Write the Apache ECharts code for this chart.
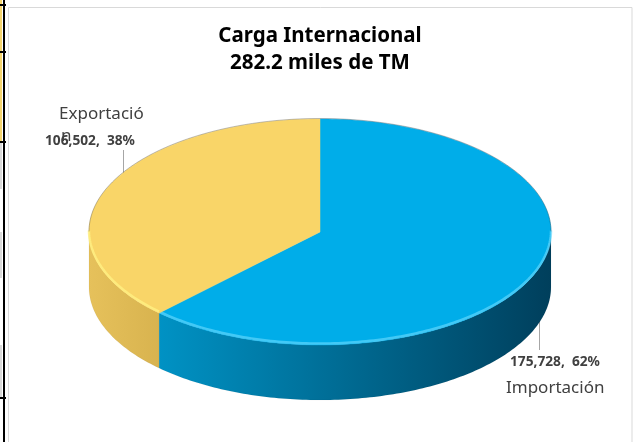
<!DOCTYPE html>
<html><head><meta charset="utf-8">
<script src="https://cdn.jsdelivr.net/npm/echarts@6/dist/echarts.min.js"></script>
<style>html,body{margin:0;padding:0;background:#fff}#c{width:637px;height:442px}</style>
</head><body><div id="c"></div>
<script>
// ---- data ----
const categories = ['Importación', 'Exportación'];
const values = [175728, 106502];
const titleLines = ['Carga Internacional', '282.2 miles de TM'];

// ---- geometry / style ----
const CX = 320, CY = 232, RX = 231, RY = 113, DEPTH = 55;
const topColors = ['#00ADE9', '#F9D568'];
const sideColors = [['#0092C4', '#003F5C'], ['#E6C15B', '#D8B34F']];
const bevelColors = ['rgba(110,220,255,0.6)', 'rgba(255,240,130,0.8)'];
const FONT = '"Noto Sans", "DejaVu Sans", sans-serif';

const total = values.reduce((a, b) => a + b, 0);
const cum = [];
values.reduce((acc, v, i) => { cum[i] = acc; return acc + v; }, 0);

function pt(deg, dy) {
  const r = deg * Math.PI / 180;
  return [CX + RX * Math.cos(r), CY - RY * Math.sin(r) + (dy || 0)];
}
function arc(a0, a1, dy) {
  const pts = [];
  const n = Math.max(2, Math.ceil(Math.abs(a0 - a1)));
  for (let k = 0; k <= n; k++) pts.push(pt(a0 + (a1 - a0) * k / n, dy));
  return pts;
}
function fmt(v) { return v.toLocaleString('en-US'); }

function renderItem(params, api) {
  const i = params.dataIndex;
  const v = api.value(0);
  const a0 = 90 - 360 * cum[i] / total;
  const a1 = 90 - 360 * (cum[i] + v) / total;
  const side = [], bevel = [], rim = [];
  // visible front side wall: angles where sin < 0
  for (let m = -1; m <= 1; m++) {
    const lo = Math.max(a1, -180 - 360 * m);
    const hi = Math.min(a0, 0 - 360 * m);
    if (hi > lo) {
      const upper = arc(hi, lo, 0);
      const lower = arc(lo, hi, DEPTH);
      side.push({
        type: 'polygon',
        shape: { points: upper.concat(lower) },
        style: {
          fill: new echarts.graphic.LinearGradient(0, 0, 1, 0, [
            { offset: 0, color: sideColors[i][0] },
            { offset: 1, color: sideColors[i][1] }
          ]),
          stroke: 'rgba(0,0,0,0.08)', lineWidth: 0.5
        }
      });
      bevel.push({
        type: 'polyline',
        shape: { points: arc(hi, lo, -1.5) },
        style: { fill: null, stroke: bevelColors[i], lineWidth: 2.5 }
      });
    }
  }
  // back rim outline
  for (let m = -1; m <= 1; m++) {
    const lo = Math.max(a1, 0 - 360 * m);
    const hi = Math.min(a0, 180 - 360 * m);
    if (hi > lo) rim.push({ type: 'polyline', shape: { points: arc(hi, lo, -0.5) }, style: { fill: null, stroke: 'rgba(0,0,0,0.25)', lineWidth: 1 } });
  }
  const top = {
    type: 'polygon',
    shape: { points: [[CX, CY]].concat(arc(a0, a1, 0)) },
    style: { fill: topColors[i], stroke: topColors[i], lineWidth: 0.5 }
  };
  return { type: 'group', children: side.concat([top], bevel, rim) };
}

const pct = values.map(v => Math.round(v / total * 100) + '%');
const valueLabels = values.map((v, i) => fmt(v) + ',  ' + pct[i]);
const expName = categories[1];

const graphic = [
  // spreadsheet artifacts on the left
  { type: 'rect', shape: { x: 0, y: 0, width: 2, height: 142 }, style: { fill: '#F5D56E' } },
  { type: 'rect', shape: { x: 0, y: 142, width: 2, height: 47 }, style: { fill: '#D9D9D9' } },
  { type: 'rect', shape: { x: 0, y: 232, width: 2, height: 46 }, style: { fill: '#D9D9D9' } },
  { type: 'rect', shape: { x: 0, y: 345, width: 2, height: 52 }, style: { fill: '#D9D9D9' } },
  { type: 'rect', shape: { x: 3, y: 0, width: 2, height: 442 }, style: { fill: '#000' } },
  { type: 'rect', shape: { x: 0, y: 4, width: 6, height: 2 }, style: { fill: '#000' } },
  { type: 'rect', shape: { x: 0, y: 51, width: 6, height: 2 }, style: { fill: '#000' } },
  { type: 'rect', shape: { x: 0, y: 141, width: 6, height: 2 }, style: { fill: '#000' } },
  { type: 'rect', shape: { x: 0, y: 397, width: 6, height: 2 }, style: { fill: '#000' } },
  // chart area border
  { type: 'rect', shape: { x: 8.5, y: 7.5, width: 623.5, height: 440 }, style: { fill: null, stroke: '#D9D9D9', lineWidth: 1 } },
  // leader lines
  { type: 'line', shape: { x1: 123.5, y1: 150, x2: 123.5, y2: 174 }, style: { stroke: '#A6A6A6', lineWidth: 1 } },
  { type: 'line', shape: { x1: 539.5, y1: 303, x2: 539.5, y2: 350 }, style: { stroke: '#A6A6A6', lineWidth: 1 } },
  // labels
  { type: 'text', x: 59, y: 114, style: { text: expName.slice(0, -1), font: '17px ' + FONT, fill: '#404040', textVerticalAlign: 'middle' } },
  { type: 'text', x: 61, y: 136, style: { text: expName.slice(-1), font: '17px ' + FONT, fill: '#404040', textVerticalAlign: 'middle' } },
  { type: 'text', x: 45, y: 141, style: { text: valueLabels[1], font: 'bold 13.7px ' + FONT, fill: '#404040', textVerticalAlign: 'middle' } },
  { type: 'text', x: 510, y: 362, style: { text: valueLabels[0], font: 'bold 13.7px ' + FONT, fill: '#404040', textVerticalAlign: 'middle' } },
  { type: 'text', x: 506, y: 388, style: { text: categories[0], font: '17px ' + FONT, fill: '#404040', textVerticalAlign: 'middle' } },
  // title
  { type: 'text', x: 320, y: 36, style: { text: titleLines[0], font: 'bold 20.5px ' + FONT, fill: '#000', textAlign: 'center', textVerticalAlign: 'middle' } },
  { type: 'text', x: 320, y: 63, style: { text: titleLines[1], font: 'bold 20.5px ' + FONT, fill: '#000', textAlign: 'center', textVerticalAlign: 'middle' } }
];

const chart = echarts.init(document.getElementById('c'), null, { renderer: 'canvas' });
chart.setOption({
  backgroundColor: '#fff',
  animation: false,
  graphic: graphic,
  series: [{
    type: 'custom',
    coordinateSystem: 'none',
    silent: true,
    renderItem: renderItem,
    data: values.map((v, i) => ({ name: categories[i], value: v }))
  }]
});
</script></body></html>
